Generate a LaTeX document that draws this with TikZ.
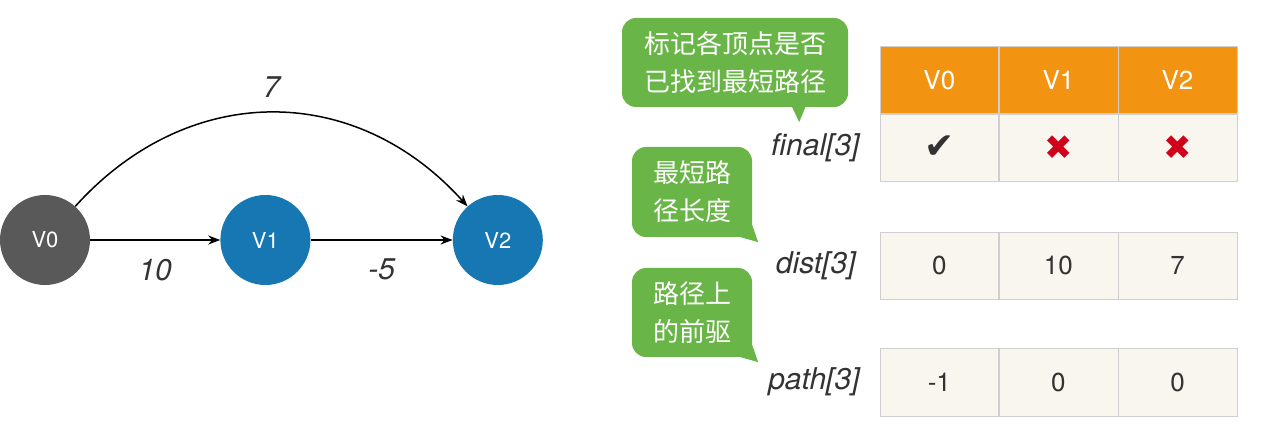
\documentclass[tikz,border=0pt]{standalone}
\usepackage{fontspec}
\setmainfont{TeX Gyre Heros}
\newfontfamily\cjk{Noto Sans CJK SC}
\newfontfamily\symb{DejaVu Sans}
\usepackage{tikz}
\usetikzlibrary{positioning,arrows.meta,calc}
\definecolor{vgray}{HTML}{595959}
\definecolor{vblue}{HTML}{1677B3}
\definecolor{hdr}{HTML}{F29312}
\definecolor{cream}{HTML}{F8F6EE}
\definecolor{cellline}{HTML}{CFCFCF}
\definecolor{bubgreen}{HTML}{6AB547}
\definecolor{xred}{HTML}{D0021B}
\definecolor{ink}{HTML}{333333}
\tikzset{
  vert/.style={circle, minimum size=90pt, inner sep=0pt, text=white, font=\fontsize{22}{26}\selectfont},
  edge/.style={-{Stealth[length=12pt,width=9pt]}, line width=1.5pt, black},
  wlabel/.style={inner sep=0pt, text=ink, font=\fontsize{30}{34}\selectfont\itshape},
  cell/.style={draw=cellline, fill=cream, minimum width=118.7pt, minimum height=67pt, inner sep=0pt, text=ink, font=\fontsize{26}{30}\selectfont},
  head/.style={cell, fill=hdr, text=white},
  bubble/.style={fill=bubgreen, rounded corners=14pt, text=white, align=center, inner sep=0pt, font=\cjk\fontsize{26}{38}\selectfont},
  yes/.style={text=ink, font=\symb\fontsize{36}{38}\selectfont},
  no/.style={text=xred, font=\symb\fontsize{34}{38}\selectfont},
}
\begin{document}
\begin{tikzpicture}[x=1pt, y=-1pt]
  \useasboundingbox (0,0) rectangle (1282,435);
  % graph
  \node[vert, fill=vgray] (v0) at (45,240) {V0};
  \node[vert, fill=vblue, right=130pt of v0] (v1) {V1};
  \node[vert, fill=vblue, right=142pt of v1] (v2) {V2};
  \draw[edge] (v0) -- node[wlabel, below=18pt] {10} (v1);
  \draw[edge] (v1) -- node[wlabel, below=18pt] {-5} (v2);
  \draw[edge] (v0) to[out=48, in=132, looseness=1.1] node[wlabel, above=14pt] {7} (v2);
  % table
  \node[head] (h0) at (939.3,80) {V0};
  \node[head, right=0pt of h0] (h1) {V1};
  \node[head, right=0pt of h1] (h2) {V2};
  \node[cell, below=0pt of h0] (f0) {};
  \node[cell, right=0pt of f0] (f1) {};
  \node[cell, right=0pt of f1] (f2) {};
  \node[yes] at (f0) {✔};
  \node[no] at (f1) {✖};
  \node[no] at (f2) {✖};
  \node[cell, below=51pt of f0] (d0) {0};
  \node[cell, right=0pt of d0] (d1) {10};
  \node[cell, right=0pt of d1] (d2) {7};
  \node[cell, below=49pt of d0] (p0) {-1};
  \node[cell, right=0pt of p0] (p1) {0};
  \node[cell, right=0pt of p1] (p2) {0};
  \node[wlabel, left=20pt of f0] (lf) {final[3]};
  \node[wlabel, left=24pt of d0] (ld) {dist[3]};
  \node[wlabel, left=20pt of p0] (lp) {path[3]};
  % notes
  \node[bubble, minimum width=226pt, minimum height=89pt] (b1) at (735,62.5) {标记各顶点是否\\已找到最短路径};
  \fill[bubgreen] ($(b1.south east)+(-57,-2)$) -- ($(b1.south east)+(-42,-2)$) -- ($(b1.south east)+(-49,15)$) -- cycle;
  \node[bubble, minimum width=120pt, minimum height=90pt] (b2) at (692,192) {最短路\\径长度};
  \fill[bubgreen] ($(b2.south east)+(-15,-1)$) -- ($(b2.south east)+(-1,-15)$) -- ($(b2.south east)+(6,5)$) -- cycle;
  \node[bubble, minimum width=120pt, minimum height=89pt] (b3) at (692,312.5) {路径上\\的前驱};
  \fill[bubgreen] ($(b3.south east)+(-15,-1)$) -- ($(b3.south east)+(-1,-15)$) -- ($(b3.south east)+(6,5)$) -- cycle;
\end{tikzpicture}
\end{document}
